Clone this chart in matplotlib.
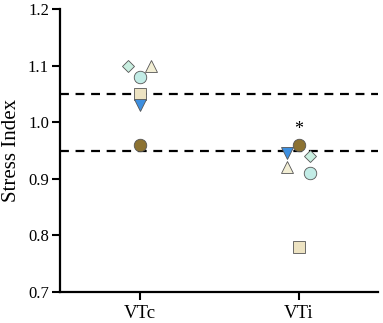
import matplotlib.pyplot as plt

plt.rcParams['font.family'] = ['Liberation Serif', 'DejaVu Serif']

groups = ['VTc', 'VTi']
# one entry per subject: marker, face colour, (VTc value, VTi value), x offset
markers = ['D', '^', 'o', 's', 'v', 'o']
colors = ['#c9eee0', '#f2eed4', '#c2ece6', '#ede3c2', '#3d8fe0', '#8c7232']
vtc = [1.10, 1.10, 1.08, 1.05, 1.03, 0.96]
vti = [0.94, 0.92, 0.91, 0.78, 0.945, 0.96]
off_vtc = [-0.07, 0.07, 0.0, 0.0, 0.0, 0.0]
off_vti = [0.07, -0.07, 0.07, 0.0, -0.07, 0.0]
sizes = [6.5, 8.5, 9, 8.5, 9, 9]

fig = plt.figure(figsize=(3.83, 3.23), dpi=100)
ax = fig.add_axes([60/383, 31/323, 318/383, 283/323])

for i in range(len(markers)):
    ax.plot([0 + off_vtc[i], 1 + off_vti[i]], [vtc[i], vti[i]], linestyle='none',
            marker=markers[i], ms=sizes[i], mfc=colors[i], mec='#555555', mew=0.6, zorder=3)

ax.axhline(1.05, color='black', ls=(0, (4, 3)), lw=1.6, zorder=1)
ax.axhline(0.95, color='black', ls=(0, (4, 3)), lw=1.6, zorder=1)
ax.text(1, 0.972, '*', ha='center', va='bottom', fontsize=13)

ax.set_xlim(-0.5, 1.5)
ax.set_ylim(0.7, 1.2)
ax.set_xticks([0, 1])
ax.set_xticklabels(groups)
ax.set_yticks([0.7, 0.8, 0.9, 1.0, 1.1, 1.2])
ax.set_yticklabels(['0.7', '0.8', '0.9', '1.0', '1.1', '1.2'])
ax.set_ylabel('Stress Index', fontsize=15, labelpad=5)
ax.tick_params(width=1.5, length=6)
ax.tick_params(axis='x', labelsize=13.5, pad=3)
ax.tick_params(axis='y', labelsize=12, pad=2)
for s in ['top', 'right']:
    ax.spines[s].set_visible(False)
for s in ['left', 'bottom']:
    ax.spines[s].set_linewidth(1.6)

fig.savefig('out.png')
